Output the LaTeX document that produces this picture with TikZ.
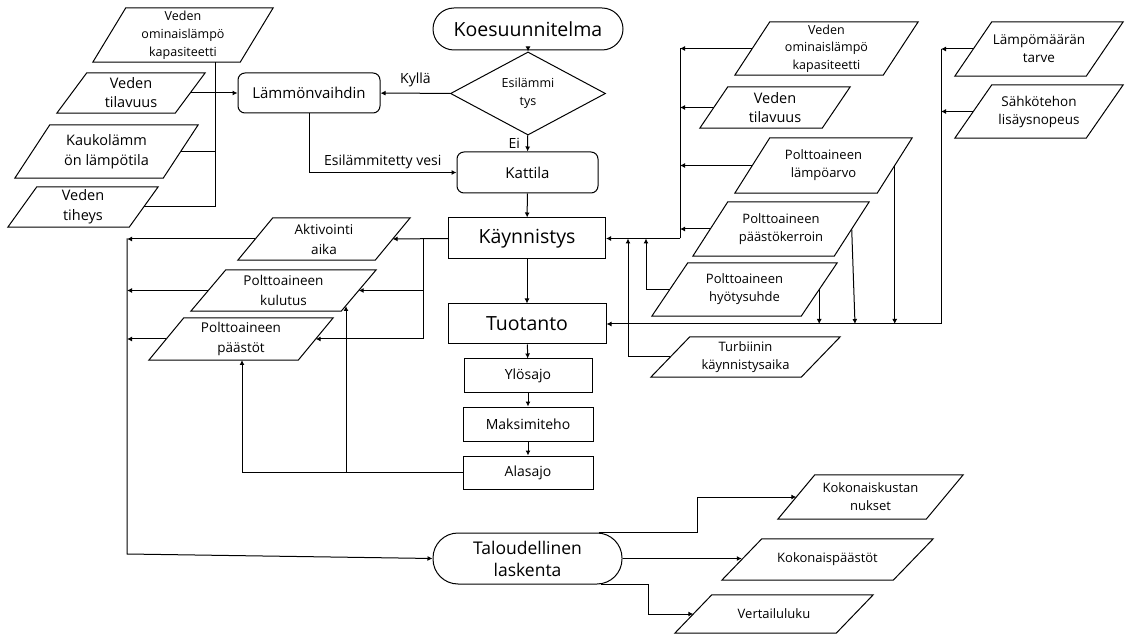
\documentclass[tikz,border=0pt]{standalone}
\usepackage{fontspec}
\setmainfont{Open Sans}
\usetikzlibrary{arrows.meta,calc,shapes.geometric}
\newcommand\myfs[2]{\fontsize{#1}{#2}\selectfont}
\tikzset{
  base/.style={draw, line width=1pt, align=center, inner sep=0pt, text=black},
  proc/.style={base, rectangle},
  rproc/.style={base, rectangle, rounded corners=7pt},
  term/.style={base, rectangle, rounded corners=#1},
  pbox/.style={align=center, inner sep=0pt, text=black},
  ln/.style={line width=1pt},
  arr/.style={line width=1pt, -{Latex[length=5pt,width=5pt]}},
  lbl/.style={font=\myfs{14}{16}, text=black},
}
% #1 opt style, #2 name, #3 cx, #4 cy, #5 W, #6 H, #7 slant, #8 text
\newcommand\para[8][]{%
  \node[pbox,#1,minimum width=#5pt,minimum height=#6pt] (#2) at (#3,#4) {#8};
  \draw[line width=1pt] (#2.south west) -- ($(#2.south east)+(-#7,0)$) -- (#2.north east) -- ($(#2.north west)+(#7,0)$) -- cycle;
  \coordinate (#2-l) at ($(#2.west)+(#7/2,0)$);
  \coordinate (#2-r) at ($(#2.east)+(-#7/2,0)$);
}
\begin{document}
\begin{tikzpicture}[x=1pt,y=-1pt]
\useasboundingbox (0,0) rectangle (1141,636);

% main column
\node[term=21pt, minimum width=190pt, minimum height=42pt, font=\myfs{19.5}{22}] (koe) at (528,29) {Koesuunnitelma};
\node[base, diamond, minimum width=155pt, minimum height=53pt, font=\myfs{12.5}{18}] (esi) at (528,93.5) {Esilämmi\\tys};
\node[rproc, minimum width=142pt, minimum height=40pt, font=\myfs{15}{16}] (lam) at (309,93) {Lämmönvaihdin};
\node[rproc, minimum width=141pt, minimum height=41pt, font=\myfs{15}{16}] (kat) at (527.5,172.5) {Kattila};
\node[proc, minimum width=157pt, minimum height=41pt, font=\myfs{19.5}{22}] (kay) at (527,238.5) {Käynnistys};
\node[proc, minimum width=158pt, minimum height=40pt, font=\myfs{19.5}{22}] (tuo) at (527,324) {Tuotanto};
\node[proc, minimum width=128pt, minimum height=33pt, font=\myfs{14}{16}] (ylo) at (528,375.5) {Ylösajo};
\node[proc, minimum width=130pt, minimum height=34pt, font=\myfs{14}{16}] (mak) at (528,424) {Maksimiteho};
\node[proc, minimum width=130pt, minimum height=33pt, font=\myfs{14}{16}] (ala) at (528,472.5) {Alasajo};
\node[term=25pt, minimum width=189pt, minimum height=51pt, font=\myfs{17.5}{22}] (tal) at (527.5,558.5) {Taloudellinen\\laskenta};

% left inputs
\para[font=\myfs{12.5}{18}]{vo1}{183}{35}{180}{54}{33}{Veden\\ominaislämpö\\kapasiteetti}
\para[font=\myfs{14.5}{19}]{vt1}{131}{93}{148}{40}{30}{Veden\\tilavuus}
\para[font=\myfs{14.5}{20}]{kl}{106.5}{151.5}{183}{53}{35}{Kaukolämm\\ön lämpötila}
\para[font=\myfs{14.5}{20}]{vti}{83}{207}{150}{40}{29}{Veden\\tiheys}

% left outputs
\para[font=\myfs{13.5}{20}]{akt}{324}{239}{172}{42}{35}{Aktivointi\\aika}
\para[font=\myfs{13.5}{20}]{kul}{283.5}{290.5}{185}{41}{35}{Polttoaineen\\kulutus}
\para[font=\myfs{13.5}{20}]{pst}{241}{339}{184}{42}{35}{Polttoaineen\\päästöt}

% right inputs
\para[font=\myfs{12.5}{17.5}]{vo2}{826.5}{48.5}{183}{53}{35}{Veden\\ominaislämpö\\kapasiteetti}
\para[font=\myfs{14.5}{19}]{vt2}{775}{107.5}{150}{41}{28}{Veden\\tilavuus}
\para[font=\myfs{13}{18}]{lav}{823.5}{165.5}{177}{55}{35}{Polttoaineen\\lämpöarvo}
\para[font=\myfs{13}{18}]{pk}{781}{229}{176}{54}{35}{Polttoaineen\\päästökerroin}
\para[font=\myfs{13}{18}]{hs}{744.5}{289.5}{185}{53}{36}{Polttoaineen\\hyötysuhde}
\para[font=\myfs{13}{18}]{tur}{745.5}{357}{189}{40}{39}{Turbiinin\\käynnistysaika}
\para[font=\myfs{13.5}{18}]{lmt}{1039}{49}{168}{54}{37}{Lämpömäärän\\tarve}
\para[font=\myfs{13.5}{18}]{sah}{1039}{111.5}{168}{53}{37}{Sähkötehon\\lisäysnopeus}

% outputs
\para[font=\myfs{13}{18}]{kok}{870.5}{497}{185}{44}{37}{Kokonaiskustan\\nukset}
\para[font=\myfs{13}{18}]{kps}{827.5}{559.5}{211}{41}{40}{Kokonaispäästöt}
\para[font=\myfs{13}{18}]{ver}{774}{614}{198}{38}{37}{Vertailuluku}

% helper coordinates
\coordinate (lb) at (215,93);
\coordinate (kb) at (423,238.5);
\coordinate (lbus) at (127,238.5);
\coordinate (lbc) at (127,554);
\coordinate (pstin) at (242,360);
\coordinate (kulin) at (346,306);
\coordinate (rb1) at (680,238.5);
\coordinate (h1) at (646,238.5);
\coordinate (h2) at (628,238.5);
\coordinate (rb2) at (941,324);
\coordinate (pkd) at (855,324);
\coordinate (tk) at (697,497);
\coordinate (tv) at (648,614);

% main flow
\draw[arr] (koe) -- (esi);
\draw[arr] (esi) -- node[lbl, left, xshift=-4pt] {Ei} (kat);
\draw[arr] (esi) -- node[lbl, above, yshift=3pt] {Kyllä} (lam);
\draw[arr] (lam.south) |- node[lbl, above, pos=0.75] {Esilämmitetty vesi} (kat.west);
\draw[arr] (kat) -- (kay);
\draw[arr] (kay) -- (tuo);
\draw[arr] (tuo) -- (ylo);
\draw[arr] (ylo) -- (mak);
\draw[arr] (mak) -- (ala);

% left inputs to Lämmönvaihdin
\draw[arr] (vt1-r) -- (lam.west);
\draw[ln] (vo1.south -| lb) -- (lb |- vti-r) -- (vti-r);
\draw[ln] (kl-r) -- (kl-r -| lb);

% Käynnistys to left outputs
\draw[arr] (kay.west) -- (akt-r);
\draw[ln] (kb) -- (kb |- pst-r);
\draw[arr] (kb |- kul-r) -- (kul-r);
\draw[arr] (kb |- pst-r) -- (pst-r);

% left bus
\draw[arr] (akt-l) -- (akt-l -| lbus);
\draw[arr] (kul-l) -- (kul-l -| lbus);
\draw[arr] (pst-l) -- (pst-l -| lbus);
\draw[arr] (lbus) -- (lbc) -- (tal.west);

% Alasajo feedback
\draw[arr] (ala.west) -| (pstin);
\draw[arr] (kulin |- ala.west) -- (kulin);

% right bus 1
\draw[arr] (rb1) -- (kay.east);
\draw[ln] (rb1) -- (rb1 |- vo2-l);
\draw[arr] (vo2-l) -- (vo2-l -| rb1);
\draw[arr] (vt2-l) -- (vt2-l -| rb1);
\draw[arr] (lav-l) -- (lav-l -| rb1);
\draw[arr] (pk-l) -- (pk-l -| rb1);
\draw[arr] (hs-l) -| (h1);
\draw[arr] (tur-l) -| (h2);

% right bus 2
\draw[arr] (rb2) -- (tuo.east);
\draw[ln] (rb2) -- (rb2 |- lmt-l);
\draw[arr] (lmt-l) -- (lmt-l -| rb2);
\draw[arr] (sah-l) -- (sah-l -| rb2);
\draw[arr] (lav-r) -- (lav-r |- rb2);
\draw[arr] (pk-r) -- (pkd);
\draw[arr] (hs-r) -- (hs-r |- rb2);

% outputs
\draw[arr] ($(tal.north)+(71,0)$) -| (tk) -- (kok-l);
\draw[arr] (tal.east) -- (tal.east -| kps-l);
\draw[arr] ($(tal.south)+(73,0)$) -| (tv) -- (ver-l);
\end{tikzpicture}
\end{document}
